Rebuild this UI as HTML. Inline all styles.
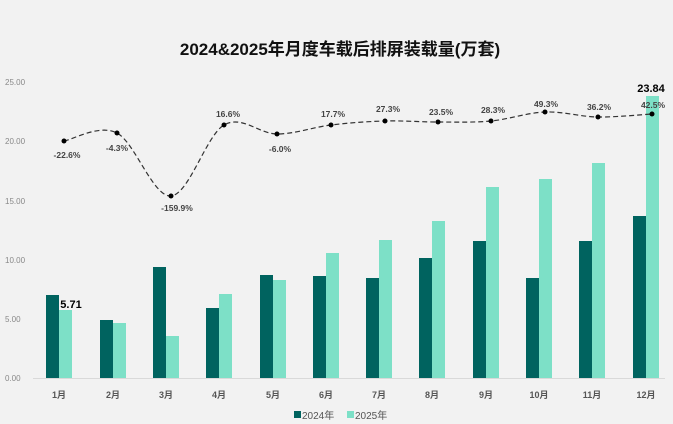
<!DOCTYPE html><html><head><meta charset="utf-8"><style>body{margin:0;background:#f2f2f2}svg{display:block}text{font-family:"Liberation Sans","Noto Sans CJK SC",sans-serif}</style></head><body>
<svg width="673" height="424" viewBox="0 0 673 424">
<rect width="673" height="424" fill="#f2f2f2"/>
<text x="340" y="55" text-anchor="middle" font-size="17" font-weight="bold" fill="#111">2024&amp;2025年月度车载后排屏装载量(万套)</text>
<g font-size="8" fill="#888">
<text x="5" y="85">25.00</text><text x="5" y="144">20.00</text><text x="5" y="204">15.00</text><text x="5" y="263">10.00</text><text x="5" y="322">5.00</text><text x="5" y="381">0.00</text></g>
<line x1="33" y1="378.5" x2="665" y2="378.5" stroke="#d9d9d9"/>
<g fill="#00635f">
<rect x="46" y="295" width="13" height="83"/><rect x="100" y="320" width="13" height="58"/><rect x="153" y="267" width="13" height="111"/><rect x="206" y="308" width="13" height="70"/><rect x="260" y="275" width="13" height="103"/><rect x="313" y="276" width="13" height="102"/><rect x="366" y="278" width="13" height="100"/><rect x="419" y="258" width="13" height="120"/><rect x="473" y="241" width="13" height="137"/><rect x="526" y="278" width="13" height="100"/><rect x="579" y="241" width="13" height="137"/><rect x="633" y="216" width="13" height="162"/></g>
<g fill="#7de0c7">
<rect x="59" y="310" width="13" height="68"/><rect x="113" y="323" width="13" height="55"/><rect x="166" y="336" width="13" height="42"/><rect x="219" y="294" width="13" height="84"/><rect x="273" y="280" width="13" height="98"/><rect x="326" y="253" width="13" height="125"/><rect x="379" y="240" width="13" height="138"/><rect x="432" y="221" width="13" height="157"/><rect x="486" y="187" width="13" height="191"/><rect x="539" y="179" width="13" height="199"/><rect x="592" y="163" width="13" height="215"/><rect x="646" y="96" width="13" height="282"/></g>
<path d="M64,141 C72.8,139.7 99.2,123.8 117,133 C134.8,142.2 153.2,197.3 171,196 C188.8,194.7 206.3,135.3 224,125 C241.7,114.7 259.2,134 277,134 C294.8,134 313,127.2 331,125 C349,122.8 367.2,121.5 385,121 C402.8,120.5 420.3,122 438,122 C455.7,122 473.2,122.7 491,121 C508.8,119.3 527.2,112.7 545,112 C562.8,111.3 580.2,116.7 598,117 C615.8,117.3 643,114.5 652,114" fill="none" stroke="#333" stroke-width="1.2" stroke-dasharray="5,3"/>
<g fill="#000"><circle cx="64" cy="141" r="2.5"/><circle cx="117" cy="133" r="2.5"/><circle cx="171" cy="196" r="2.5"/><circle cx="224" cy="125" r="2.5"/><circle cx="277" cy="134" r="2.5"/><circle cx="331" cy="125" r="2.5"/><circle cx="385" cy="121" r="2.5"/><circle cx="438" cy="122" r="2.5"/><circle cx="491" cy="121" r="2.5"/><circle cx="545" cy="112" r="2.5"/><circle cx="598" cy="117" r="2.5"/><circle cx="652" cy="114" r="2.5"/></g>
<g font-size="8.5" font-weight="bold" fill="#444" text-anchor="middle">
<text x="67" y="158">-22.6%</text><text x="117" y="151">-4.3%</text><text x="177" y="211">-159.9%</text><text x="228" y="117">16.6%</text><text x="280" y="152">-6.0%</text><text x="333" y="117">17.7%</text><text x="388" y="112">27.3%</text><text x="441" y="115">23.5%</text><text x="493" y="113">28.3%</text><text x="546" y="107">49.3%</text><text x="599" y="110">36.2%</text><text x="653" y="108">42.5%</text></g>
<g font-size="11" font-weight="bold" fill="#000" text-anchor="middle"><text x="71" y="308">5.71</text><text x="651" y="92">23.84</text></g>
<g font-size="9" font-weight="bold" fill="#555" text-anchor="middle">
<text x="59" y="398">1月</text><text x="113" y="398">2月</text><text x="166" y="398">3月</text><text x="219" y="398">4月</text><text x="273" y="398">5月</text><text x="326" y="398">6月</text><text x="379" y="398">7月</text><text x="432" y="398">8月</text><text x="486" y="398">9月</text><text x="539" y="398">10月</text><text x="592" y="398">11月</text><text x="646" y="398">12月</text></g>
<rect x="294" y="411" width="7" height="7" fill="#00635f"/><text x="302" y="419" font-size="10" fill="#555">2024年</text>
<rect x="347" y="411" width="7" height="7" fill="#7de0c7"/><text x="355" y="419" font-size="10" fill="#555">2025年</text>
</svg></body></html>
